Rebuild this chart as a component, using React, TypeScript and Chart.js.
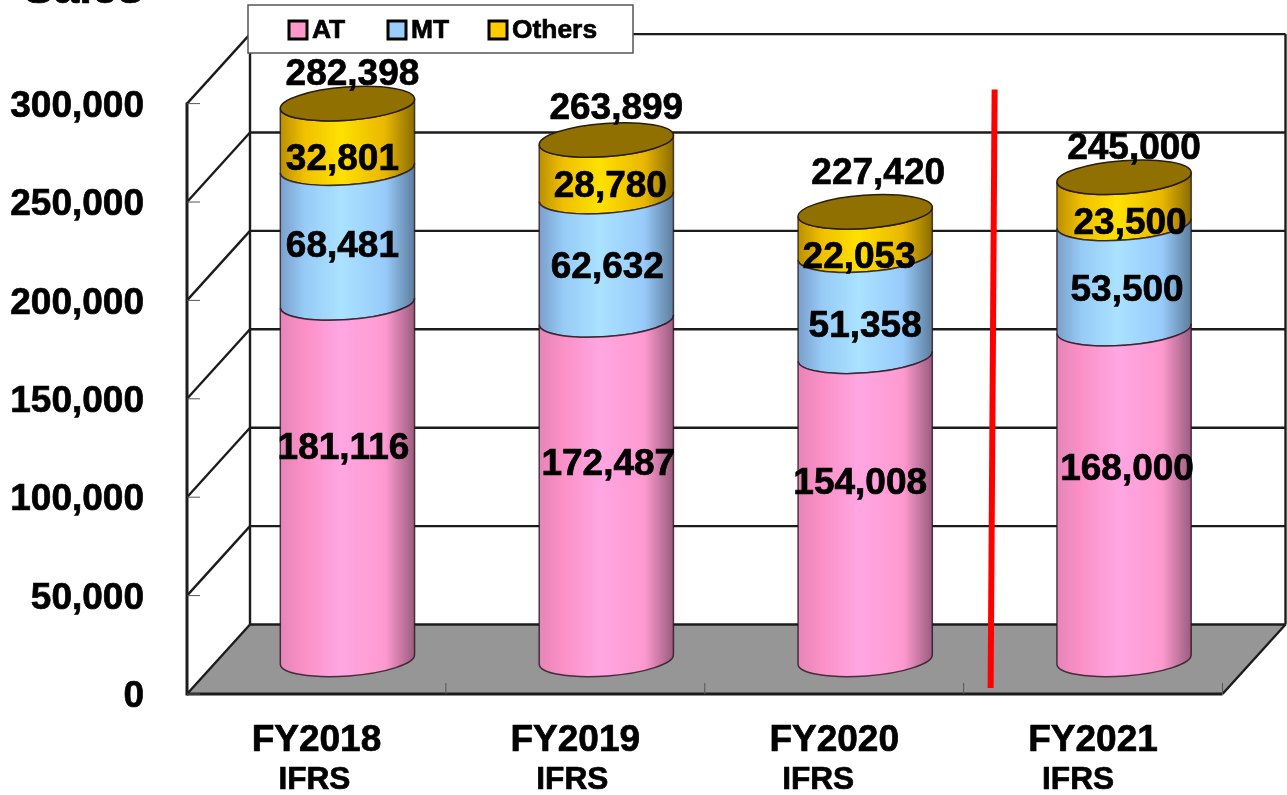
import React, { useEffect, useRef } from "react";
import { Chart, BarController, registerables } from "chart.js";

Chart.register(...registerables);

const categories = ["FY2018", "FY2019", "FY2020", "FY2021"];
const standardLabels = ["IFRS", "IFRS", "IFRS", "IFRS"];
const atValues = [181116, 172487, 154008, 168000];
const mtValues = [68481, 62632, 51358, 53500];
const otherValues = [32801, 28780, 22053, 23500];
const totals = [282398, 263899, 227420, 245000];
const seriesNames = ["AT", "MT", "Others"];
const yTicksMax = 300000;
const yTickStep = 50000;

const FONT = '"Liberation Sans", Arial, sans-serif';
const DEPTH_X = 63;
const DEPTH_Y = 69.5;
const CYL_DX = 31;
const CYL_DY = 34.6;
const RY = 16.6;
const TILT = (-4.2 * Math.PI) / 180;
const INK = "#1c1c1c";
const LABEL_DROP = 3;
const HEAVY = 0.7;

const pinkStops = ["#e585b8", "#fb90c6", "#ffa6e2", "#ff9ad0", "#9a5c7e"];
const blueStops = ["#7a9fca", "#96cbf6", "#aae2ff", "#98cbfb", "#5d7d9c"];
const yellowStops = ["#b98f00", "#f0c000", "#ffe100", "#e9b700", "#8a6c00"];
const stopAt = [0, 0.18, 0.45, 0.78, 1];

// hand-placed label nudges in the reference, per series then per category
const atNudge = [[-4, -35], [2, -27], [-5, -27], [3, -27]];
const mtNudge = [[-5, 9], [1, 7], [0, 18], [3, 12]];
const otherNudge = [[-5, 21], [4, 16], [-6, 22], [6, 21]];
const totalNudge = [[5, -31], [10, -33.6], [13, -41], [10, -31]];
const standardNudge = [-2, -3, -16, -15];
const legendX = [289, 388, 489];

const fmt = (v: number) => v.toLocaleString("en-US");

class CylinderController extends BarController {
  static id = "cylinder";
  draw() {
    const ctx = this.chart.ctx;
    const ds: any = this.getDataset();
    const rects: any[] = (this as any)._cachedMeta.data;
    rects.forEach((bar) => {
      const { x, y, base, width } = bar.getProps(["x", "y", "base", "width"], true);
      const cx = x + CYL_DX;
      const rx = width / 2;
      const top = y - CYL_DY;
      const bottom = base - CYL_DY;
      const grad = ctx.createLinearGradient(cx - rx, 0, cx + rx, 0);
      ds.stops.forEach((c: string, i: number) => grad.addColorStop(stopAt[i], c));
      ctx.save();
      ctx.beginPath();
      ctx.ellipse(cx, top, rx, RY, TILT, Math.PI, 0, true);
      ctx.ellipse(cx, bottom, rx, RY, TILT, 0, Math.PI, false);
      ctx.closePath();
      ctx.fillStyle = grad;
      ctx.fill();
      ctx.lineWidth = 1.5;
      ctx.strokeStyle = "rgba(40,20,30,0.8)";
      ctx.stroke();
      if (ds.capColor) {
        ctx.beginPath();
        ctx.ellipse(cx, top, rx, RY, TILT, 0, Math.PI * 2);
        ctx.fillStyle = ds.capColor;
        ctx.fill();
        ctx.strokeStyle = "#2a1c08";
        ctx.stroke();
      }
      ctx.restore();
    });
  }
}
Chart.register(CylinderController as any);

const wallsPlugin = {
  id: "walls",
  beforeDatasetsDraw(chart: any) {
    const { ctx, chartArea: a, scales } = chart;
    const { left, right, bottom, top } = a;
    const y = scales.y;
    const x = scales.x;
    ctx.save();
    ctx.beginPath();
    ctx.moveTo(left, bottom);
    ctx.lineTo(left + DEPTH_X, bottom - DEPTH_Y);
    ctx.lineTo(right + DEPTH_X, bottom - DEPTH_Y);
    ctx.lineTo(right, bottom);
    ctx.closePath();
    ctx.fillStyle = "#969696";
    ctx.fill();

    ctx.strokeStyle = INK;
    ctx.lineWidth = 2.4;
    const seg = (a1: number, b1: number, a2: number, b2: number) => {
      ctx.beginPath();
      ctx.moveTo(a1, b1);
      ctx.lineTo(a2, b2);
      ctx.stroke();
    };
    y.ticks.forEach((t: any) => {
      const py = y.getPixelForValue(t.value);
      seg(left, py, left + DEPTH_X, py - DEPTH_Y);
      seg(left + DEPTH_X, py - DEPTH_Y, right + DEPTH_X, py - DEPTH_Y);
    });
    seg(left + DEPTH_X, top - DEPTH_Y, left + DEPTH_X, bottom - DEPTH_Y);
    seg(right + DEPTH_X, top - DEPTH_Y, right + DEPTH_X, bottom - DEPTH_Y);
    seg(right, bottom, right + DEPTH_X, bottom - DEPTH_Y);
    ctx.lineWidth = 3;
    seg(left, top - 1, left, bottom + 1.5);
    seg(left, bottom, right, bottom);

    ctx.strokeStyle = "#555";
    ctx.lineWidth = 1;
    y.ticks.forEach((t: any) => {
      const py = y.getPixelForValue(t.value);
      seg(left, py, left + 13, py);
    });
    const step = x.getPixelForValue(1) - x.getPixelForValue(0);
    categories.forEach((_, i) => {
      const px = x.getPixelForValue(i) + step / 2;
      seg(px, bottom, px, bottom - 11);
    });
    ctx.restore();
  },
};

const textPlugin = {
  id: "texts",
  afterDatasetsDraw(chart: any) {
    const { ctx, chartArea: a, scales } = chart;
    const x = scales.x;
    const bold = (s: number) => `bold ${s}px ${FONT}`;
    const put = (s: string, px: number, py: number) => {
      ctx.fillText(s, px, py);
      ctx.strokeText(s, px, py);
    };
    ctx.save();
    ctx.fillStyle = "#000";
    ctx.strokeStyle = "#000";
    ctx.lineWidth = HEAVY;
    ctx.textAlign = "center";
    ctx.textBaseline = "middle";
    ctx.font = bold(37);

    const groups = [
      { idx: 0, values: atValues, nudge: atNudge },
      { idx: 1, values: mtValues, nudge: mtNudge },
      { idx: 2, values: otherValues, nudge: otherNudge },
    ];
    groups.forEach((g) => {
      chart.getDatasetMeta(g.idx).data.forEach((bar: any, i: number) => {
        const px = bar.x + CYL_DX + g.nudge[i][0];
        const py = (bar.y + bar.base) / 2 - 35 + g.nudge[i][1] + LABEL_DROP;
        put(fmt(g.values[i]), px, py);
      });
    });
    chart.getDatasetMeta(2).data.forEach((bar: any, i: number) => {
      put(fmt(totals[i]), bar.x + CYL_DX + totalNudge[i][0], bar.y - 35 + totalNudge[i][1] + LABEL_DROP);
    });

    // standard sub-labels under the categories
    ctx.font = bold(31.6);
    standardLabels.forEach((s, i) => {
      put(s, x.getPixelForValue(i) + standardNudge[i], 780.5);
    });

    // axis title, clipped by the top of the picture in the reference
    ctx.font = bold(46);
    ctx.textAlign = "left";
    ctx.textBaseline = "alphabetic";
    put("Sales", 23, 3);

    // divider between results and forecast
    const mid = (x.getPixelForValue(2) + x.getPixelForValue(3)) / 2;
    ctx.strokeStyle = "#ff0000";
    ctx.lineWidth = 6;
    ctx.beginPath();
    ctx.moveTo(mid + 31, a.top - 14);
    ctx.lineTo(mid + 27, a.bottom - 6);
    ctx.stroke();

    // legend
    ctx.fillStyle = "#fff";
    ctx.fillRect(248, 5, 385, 48);
    ctx.strokeStyle = "#555";
    ctx.lineWidth = 1.5;
    ctx.strokeRect(248, 5, 385, 48);
    ctx.font = bold(26.4);
    ctx.textBaseline = "middle";
    seriesNames.forEach((name, i) => {
      const sx = legendX[i];
      ctx.fillStyle = chart.data.datasets[i].backgroundColor;
      ctx.fillRect(sx, 21, 18, 18);
      ctx.strokeStyle = "#000";
      ctx.lineWidth = 3;
      ctx.strokeRect(sx, 21, 18, 18);
      ctx.fillStyle = "#000";
      ctx.lineWidth = HEAVY;
      put(name, sx + 23, 31);
    });
    ctx.restore();
  },
};

export default function App() {
  const ref = useRef<HTMLCanvasElement | null>(null);
  useEffect(() => {
    document.body.style.margin = "0";
    document.body.style.background = "#fff";
    const chart = new Chart(ref.current as any, {
      type: "cylinder" as any,
      data: {
        labels: categories,
        datasets: [
          { label: seriesNames[0], data: atValues, backgroundColor: "#ff99cc", stops: pinkStops, clip: false },
          { label: seriesNames[1], data: mtValues, backgroundColor: "#99ccff", stops: blueStops, clip: false },
          { label: seriesNames[2], data: otherValues, backgroundColor: "#ffcc00", stops: yellowStops, capColor: "#8f7000", clip: false },
        ] as any,
      },
      options: {
        responsive: false,
        animation: false,
        events: [],
        layout: { padding: { top: 103.6, right: 64.5, left: 0, bottom: 0 } },
        datasets: { cylinder: { categoryPercentage: 1, barPercentage: 0.52 } } as any,
        plugins: { legend: { display: false }, tooltip: { enabled: false }, title: { display: false } },
        scales: {
          x: {
            type: "category",
            stacked: true,
            offset: true,
            grid: { display: false, drawTicks: false },
            border: { display: false },
            afterFit: (s: any) => { s.height = 101; },
            ticks: {
              autoSkip: false,
              maxRotation: 0,
              padding: 25,
              color: "#000",
              textStrokeColor: "#000",
              textStrokeWidth: HEAVY,
              font: { family: FONT, size: 37, weight: "bold" },
            },
          },
          y: {
            type: "linear",
            stacked: true,
            min: 0,
            max: yTicksMax,
            grid: { display: false, drawTicks: false },
            border: { display: false },
            afterFit: (s: any) => { s.width = 187; },
            ticks: {
              stepSize: yTickStep,
              padding: 43,
              labelOffset: 3,
              color: "#000",
              textStrokeColor: "#000",
              textStrokeWidth: HEAVY,
              font: { family: FONT, size: 37, weight: "bold" },
              callback: (v: any) => fmt(Number(v)),
            },
          },
        },
      } as any,
      plugins: [wallsPlugin, textPlugin],
    });
    return () => chart.destroy();
  }, []);
  return <canvas ref={ref} width={1287} height={795} style={{ display: "block" }} />;
}
